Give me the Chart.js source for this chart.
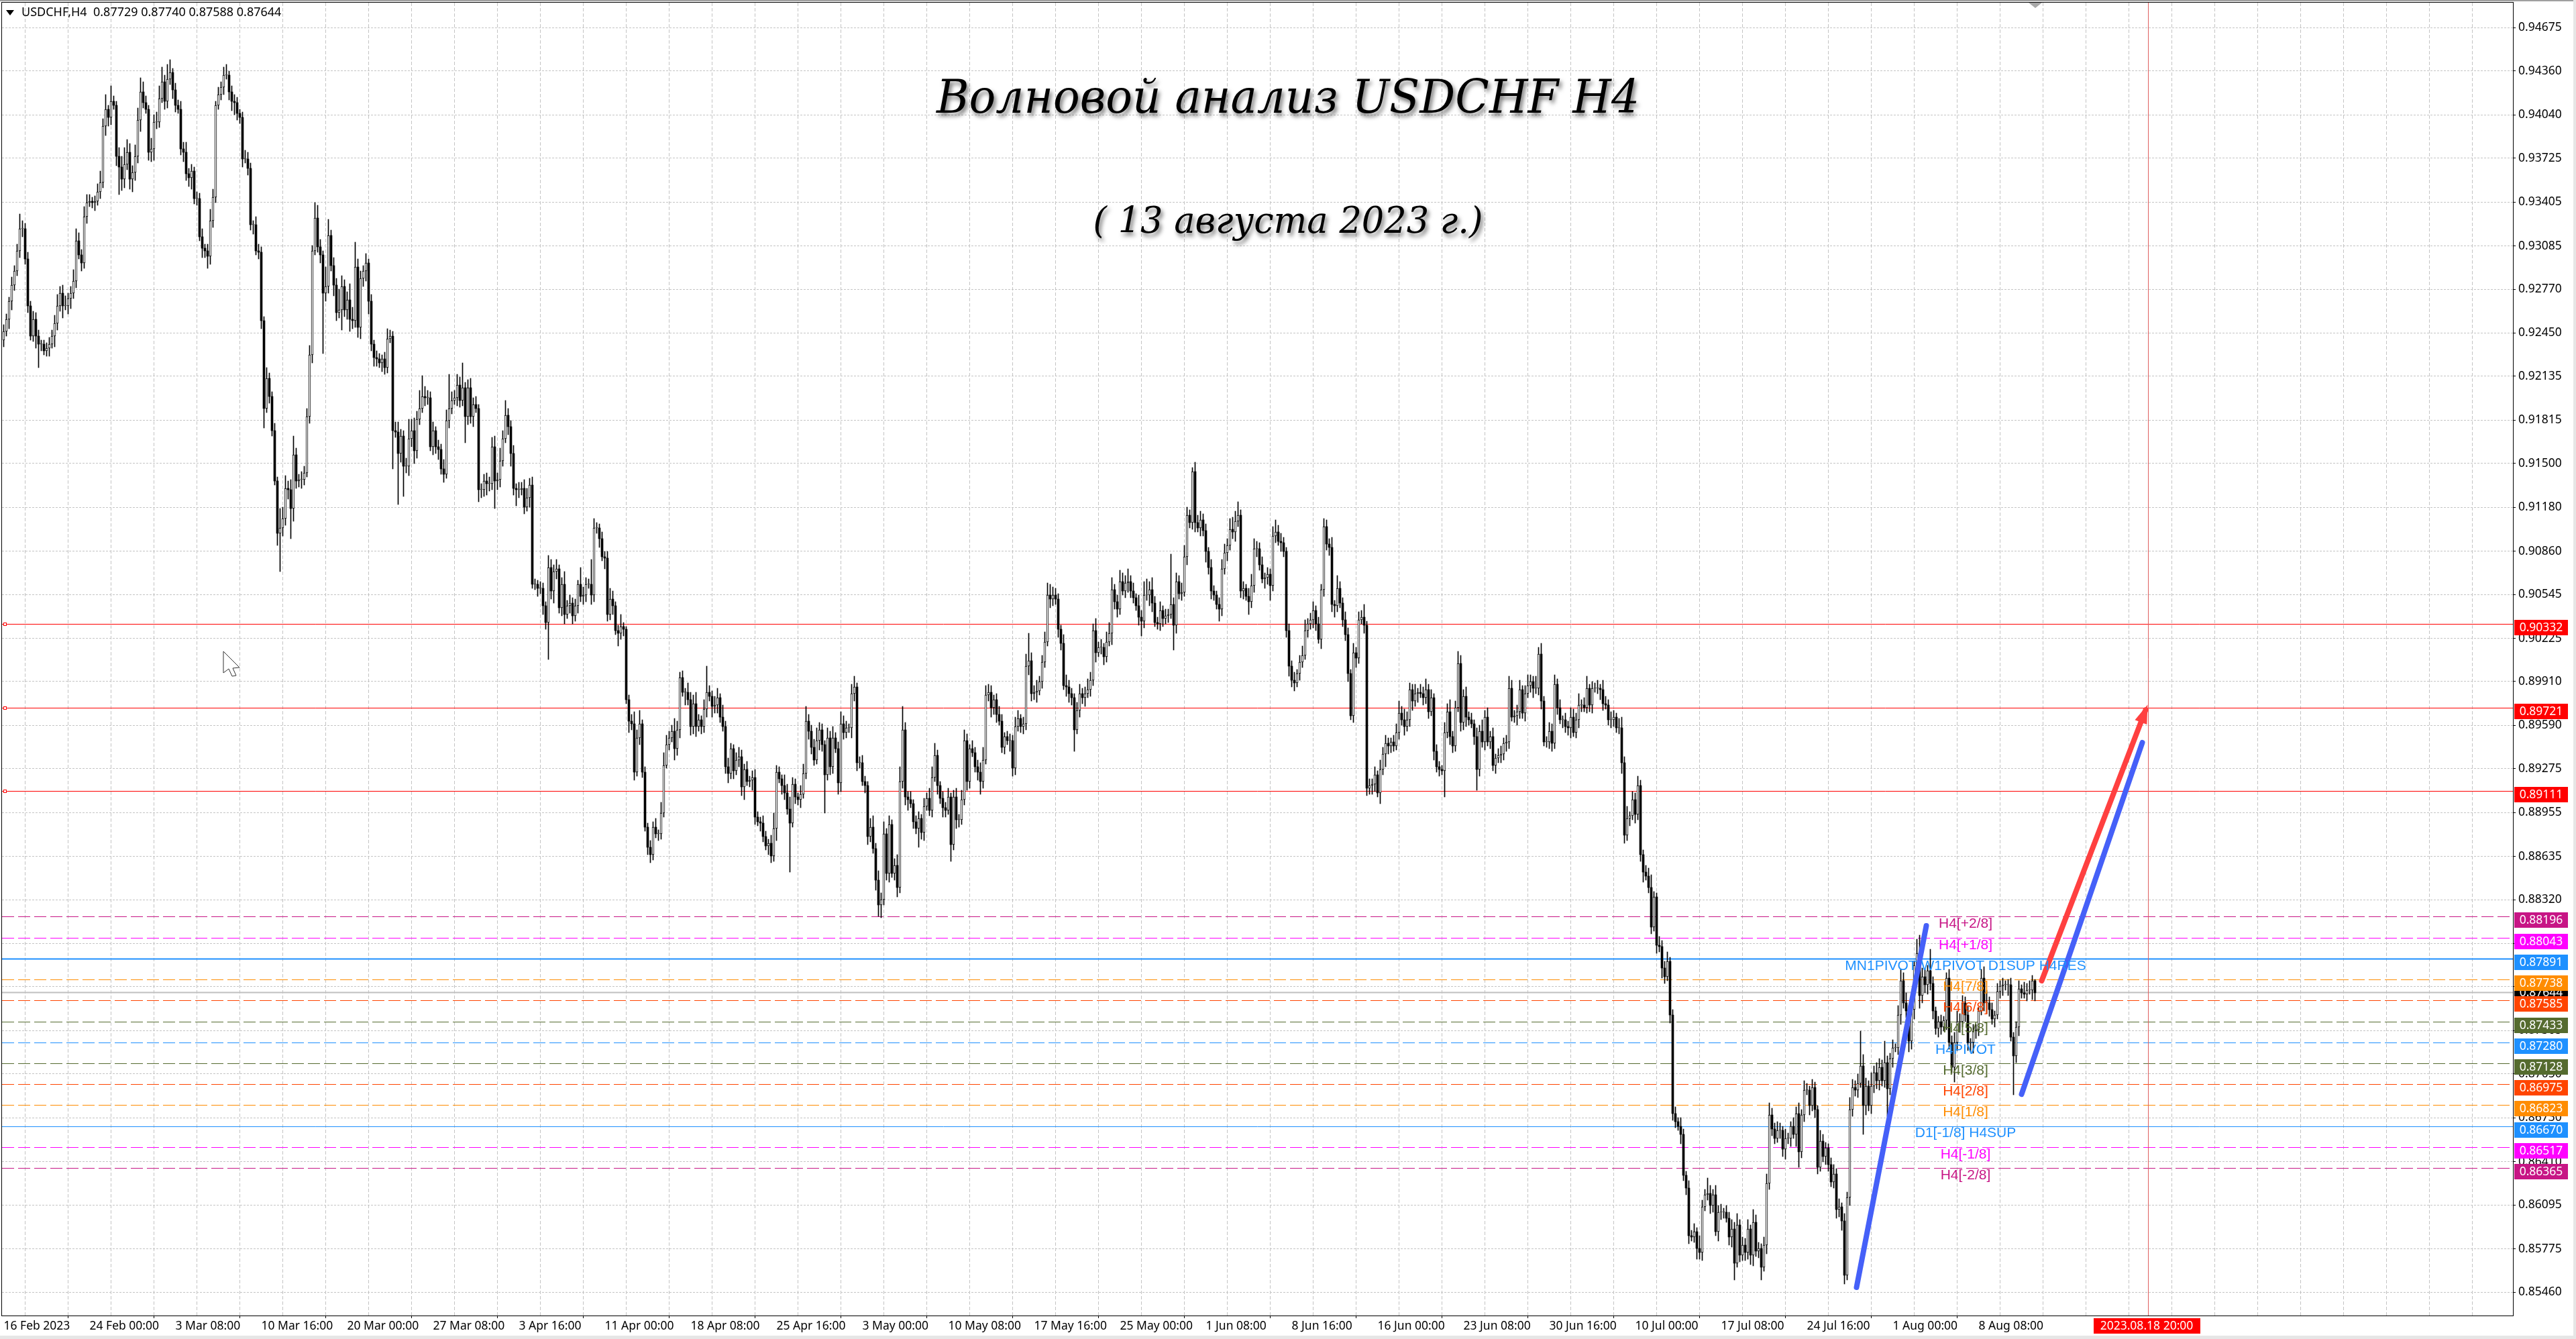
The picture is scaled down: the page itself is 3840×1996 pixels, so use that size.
<!DOCTYPE html>
<html>
<head>
<meta charset="utf-8">
<title>USDCHF H4</title>
<script src="https://cdn.jsdelivr.net/npm/chart.js@4"></script>
<style>
  html, body { margin: 0; padding: 0; background: #fff; }
  canvas { display: block; }
</style>
</head>
<body>
<canvas id="chartCanvas" width="3840" height="1996"></canvas>
<script>
// Candle closes (in 1/10000 of a price unit)
const closes = [
  9246,9255,9268,9280,9290,9305,9321,9321,9299,9265,9243,9255,9243,9237,9237,9232,9234,9237,9243,9252,
  9265,9274,9265,9265,9270,9274,9283,9312,9302,9296,9330,9340,9341,9340,9341,9348,9355,9396,9408,9402,
  9414,9411,9374,9366,9357,9368,9377,9357,9362,9374,9400,9421,9413,9408,9377,9379,9399,9399,9416,9428,
  9414,9430,9435,9422,9411,9408,9379,9377,9361,9358,9363,9343,9343,9315,9307,9305,9301,9327,9344,9411,
  9419,9424,9433,9433,9421,9414,9413,9405,9402,9372,9372,9365,9324,9324,9305,9304,9254,9190,9212,9199,
  9174,9137,9099,9103,9110,9132,9131,9117,9156,9137,9138,9138,9143,9184,9229,9305,9329,9308,9302,9274,
  9279,9316,9294,9280,9260,9262,9279,9262,9269,9255,9254,9293,9249,9285,9290,9296,9268,9237,9227,9226,
  9223,9226,9220,9241,9243,9174,9173,9157,9170,9148,9148,9168,9174,9159,9182,9190,9199,9198,9198,9162,
  9174,9162,9160,9146,9142,9181,9190,9196,9198,9207,9196,9205,9184,9205,9184,9193,9190,9131,9131,9137,
  9135,9135,9162,9137,9138,9152,9168,9185,9177,9157,9132,9131,9131,9132,9118,9125,9134,9062,9062,9059,
  9059,9046,9034,9074,9057,9071,9073,9045,9062,9040,9046,9048,9039,9046,9062,9053,9054,9062,9062,9054,
  9103,9103,9095,9082,9081,9040,9051,9046,9028,9026,9031,9029,8978,8962,8960,8925,8950,8960,8925,8885,
  8870,8865,8885,8880,8880,8895,8930,8945,8950,8955,8942,8956,8994,8983,8983,8978,8958,8975,8958,8963,
  8958,8971,8983,8980,8973,8974,8979,8965,8958,8929,8924,8942,8926,8934,8936,8914,8927,8918,8919,8921,
  8892,8889,8888,8878,8871,8873,8864,8884,8925,8920,8915,8910,8898,8888,8916,8907,8905,8909,8924,8962,
  8955,8943,8934,8948,8956,8945,8923,8950,8929,8950,8942,8917,8960,8954,8957,8957,8982,8987,8932,8932,
  8918,8915,8878,8885,8869,8846,8828,8832,8880,8851,8887,8851,8857,8841,8918,8956,8907,8905,8902,8889,
  8884,8891,8881,8900,8906,8897,8921,8937,8915,8906,8899,8897,8907,8872,8907,8890,8890,8905,8948,8918,
  8942,8939,8929,8925,8918,8934,8981,8983,8972,8978,8967,8962,8943,8951,8948,8948,8928,8958,8964,8958,
  8960,9002,9006,8982,8983,8984,8991,9005,9020,9054,9051,9054,9051,9029,9019,8988,8987,8982,8979,8956,
  8970,8982,8979,8982,8985,8992,9028,9012,9016,9016,9009,9020,9026,9058,9049,9044,9064,9057,9063,9064,
  9057,9052,9046,9038,9035,9054,9054,9058,9048,9034,9033,9043,9037,9039,9040,9047,9032,9064,9055,9056,
  9082,9112,9107,9144,9107,9103,9109,9101,9086,9074,9057,9054,9047,9044,9073,9085,9090,9102,9100,9108,
  9112,9057,9059,9053,9049,9061,9088,9088,9076,9066,9067,9069,9061,9097,9100,9093,9092,9086,9028,9002,
  8992,8990,8997,9005,9010,9028,9033,9036,9043,9033,9022,9058,9104,9091,9089,9047,9046,9059,9048,9036,
  9025,8997,8966,9012,9008,9036,9038,9032,8913,8915,8916,8923,8910,8927,8938,8946,8944,8947,8944,8954,
  8968,8963,8958,8963,8985,8977,8982,8983,8982,8979,8985,8969,8979,8940,8929,8927,8926,8954,8969,8951,
  8944,8972,9004,8961,8980,8965,8963,8960,8951,8927,8955,8947,8965,8947,8951,8930,8935,8937,8938,8946,
  8947,8986,8965,8966,8969,8985,8968,8982,8988,8991,8986,8986,9011,8977,8947,8947,8955,8946,8989,8972,
  8963,8963,8958,8957,8965,8954,8963,8974,8974,8972,8986,8974,8986,8986,8986,8985,8975,8974,8963,8963,
  8965,8957,8957,8932,8879,8891,8893,8905,8894,8915,8865,8852,8849,8841,8812,8834,8799,8798,8782,8776,
  8787,8748,8676,8670,8667,8661,8631,8622,8587,8586,8590,8578,8575,8608,8617,8618,8609,8617,8590,8604,
  8604,8604,8600,8586,8592,8567,8595,8573,8580,8575,8592,8573,8597,8576,8578,8564,8580,8625,8675,8665,
  8658,8664,8664,8650,8658,8658,8667,8661,8676,8648,8675,8693,8693,8682,8695,8679,8637,8656,8645,8651,
  8639,8626,8632,8606,8608,8598,8558,8615,8679,8695,8693,8698,8711,8682,8696,8682,8696,8706,8700,8710,
  8700,8713,8694,8716,8724,8724,8748,8773,8757,8751,8729,8752,8784,8793,8762,8776,8770,8780,8771,8751,
  8738,8743,8739,8744,8775,8728,8710,8728,8743,8743,8757,8748,8728,8728,8736,8737,8751,8775,8757,8757,
  8752,8745,8748,8765,8769,8770,8770,8770,8732,8718,8739,8767,8764,8763,8766,8766,8773,8764
];

// Length of the upper wick of each candle
const wickUp = [
  5,4,3,6,4,5,11,6,4,5,3,6,5,4,3,3,4,5,4,6,
  8,5,6,7,4,5,8,9,6,4,7,6,5,3,4,6,8,5,11,3,
  11,4,3,6,8,12,9,6,5,8,9,10,7,5,3,8,5,7,9,11,
  5,11,9,3,5,4,6,5,7,4,5,3,5,4,6,3,5,8,6,3,
  5,4,6,8,3,4,5,4,3,4,6,5,4,3,6,5,4,3,8,4,
  3,5,3,14,8,9,5,7,14,5,4,6,5,6,7,4,11,9,5,3,
  14,12,4,6,5,15,8,5,6,12,9,18,6,5,4,7,3,5,3,5,
  4,3,5,7,4,3,6,7,5,4,6,14,8,9,6,13,15,7,5,4,
  6,3,5,4,7,8,25,6,5,8,6,18,4,6,7,5,6,3,4,5,
  6,5,7,8,5,9,6,11,5,4,6,3,5,4,6,7,5,6,4,3,
  5,4,3,9,6,5,7,3,5,9,4,6,4,5,3,12,6,5,4,18,
  7,4,3,5,4,5,8,6,3,4,9,3,2,3,5,9,6,10,3,4,
  3,5,4,6,3,8,9,7,5,4,9,6,4,5,3,7,5,6,8,4,
  3,7,19,5,4,6,7,3,9,4,6,4,3,5,7,5,4,6,3,5,
  6,4,3,5,4,3,6,11,5,4,3,8,6,9,5,4,3,6,7,11,
  5,4,6,9,5,4,3,7,5,8,4,5,9,6,5,3,7,8,3,4,
  5,4,3,6,8,4,7,5,9,4,6,3,5,8,11,17,5,4,6,3,
  4,5,3,6,4,7,8,9,4,3,5,4,6,3,5,6,4,7,8,5,
  3,6,4,5,7,9,7,6,5,3,4,6,5,3,4,5,4,7,6,3,
  5,9,20,6,5,8,4,5,7,9,8,6,5,4,3,6,8,5,4,3,
  6,7,4,5,8,6,5,9,4,6,3,7,8,9,4,5,8,6,5,9,
  4,6,3,8,5,10,12,6,9,5,4,6,3,5,4,37,5,6,4,7,
  8,6,4,3,7,5,6,4,5,3,6,4,3,5,7,6,5,8,9,7,
  10,4,5,3,6,8,7,5,4,6,3,5,4,7,9,5,6,4,3,5,
  4,6,3,5,7,8,4,5,6,3,5,4,6,5,4,7,3,9,5,4,
  6,5,3,7,4,6,5,9,3,5,4,6,3,7,5,6,4,3,5,6,
  9,5,8,6,5,4,7,3,6,5,8,4,6,3,5,4,3,7,6,9,
  4,5,9,6,5,7,4,5,3,6,4,8,5,7,4,6,3,5,6,4,
  5,9,6,4,5,7,3,6,8,5,4,9,5,8,3,4,6,5,7,4,
  6,3,5,4,7,6,5,8,4,5,9,3,5,4,6,3,7,5,4,6,
  5,3,7,8,4,9,3,6,5,7,4,3,5,6,9,4,3,6,4,5,
  7,3,4,5,3,6,4,3,5,4,6,3,9,5,4,11,6,4,7,5,
  6,3,5,4,7,5,8,4,6,5,7,3,9,5,4,3,6,7,9,5,
  4,6,5,3,7,4,3,6,5,8,4,7,5,3,6,4,3,8,5,4,
  3,5,7,4,6,3,5,4,9,6,5,7,25,8,6,4,10,5,7,6,
  5,16,5,4,6,3,7,8,6,7,4,5,3,10,13,6,5,4,16,5,
  3,4,5,3,4,6,5,7,8,6,5,4,7,3,5,4,3,6,8,9,
  4,5,3,6,4,5,3,4,5,3,4,6,3,8,5,7,4,1
];

// Length of the lower wick of each candle
const wickDn = [
  5,3,7,6,4,3,5,6,4,5,3,4,9,17,5,3,4,6,3,8,
  5,4,9,3,6,7,4,5,3,6,4,5,3,4,6,3,5,4,7,6,
  5,3,7,20,8,6,4,7,9,6,5,8,4,3,6,7,8,5,4,3,
  6,5,4,6,5,3,4,7,5,6,8,4,5,3,7,5,9,6,5,4,
  3,4,5,3,6,7,9,5,4,6,3,5,4,7,3,5,6,14,3,5,
  4,3,9,28,6,5,7,22,9,5,4,6,4,3,5,6,3,4,6,44,
  6,5,4,8,6,4,15,5,7,9,6,5,7,8,6,7,9,5,6,5,
  3,6,5,4,3,28,4,37,6,22,5,7,6,9,5,4,3,6,5,3,
  6,5,7,4,6,3,5,4,3,6,5,4,19,6,5,7,3,9,6,5,
  8,5,4,20,6,5,4,3,6,9,5,12,6,4,5,3,7,3,4,6,
  4,6,5,27,6,9,5,4,6,7,3,5,6,4,5,4,6,5,3,7,
  5,4,6,3,8,5,4,6,3,9,4,5,3,8,4,6,3,5,4,3,
  5,6,4,3,5,4,3,2,4,3,8,5,6,3,9,4,6,5,7,3,
  5,4,6,3,8,5,6,4,3,5,7,4,6,3,5,6,9,3,4,7,
  5,3,6,4,3,6,5,4,9,3,6,5,4,36,3,5,4,6,3,4,
  6,5,4,3,7,5,28,4,6,5,3,8,6,5,4,3,7,5,6,4,
  3,5,6,4,3,7,8,9,4,5,6,3,5,7,4,5,6,8,3,5,
  4,14,5,6,3,4,5,3,6,4,7,5,3,12,4,6,5,3,4,6,
  5,3,4,6,9,5,3,4,7,5,6,3,4,5,3,8,6,5,3,4,
  5,4,6,5,4,7,3,5,4,3,6,5,4,6,5,3,7,6,5,16,
  3,5,4,6,3,5,4,7,3,5,6,4,3,8,5,6,4,3,5,7,
  5,4,3,6,11,5,4,8,6,3,4,5,6,4,5,3,18,6,4,5,
  3,6,4,5,7,3,6,4,8,5,6,4,3,9,5,4,6,3,5,7,
  4,5,6,3,9,4,5,6,4,3,7,5,11,4,5,3,6,4,5,7,
  5,6,3,5,4,3,5,4,6,5,3,7,5,4,6,5,8,4,3,5,
  4,6,3,5,7,4,3,6,5,4,6,5,3,8,4,9,6,5,4,3,
  5,4,6,3,5,7,4,6,3,5,4,5,3,6,4,5,3,19,4,6,
  5,4,3,6,5,7,4,3,6,15,5,4,6,3,5,4,6,3,5,4,
  6,5,3,4,7,5,4,6,3,5,7,4,5,6,3,4,5,6,4,5,
  3,6,4,5,7,3,4,6,5,3,4,5,6,3,4,7,5,3,4,6,
  5,3,4,8,6,4,5,3,6,4,5,7,3,4,5,3,6,4,7,5,
  3,6,5,4,3,7,4,5,6,3,4,8,5,6,3,4,6,5,3,7,
  5,4,3,6,7,12,3,5,4,6,5,7,8,4,5,9,3,6,4,5,
  4,3,6,5,7,4,6,3,9,11,4,5,3,7,4,6,5,3,4,6,
  5,3,4,6,5,7,6,3,6,5,4,5,3,21,7,4,6,5,6,7,
  4,5,20,4,6,3,5,7,4,5,8,6,7,4,9,5,6,7,5,6,
  4,6,5,3,7,5,4,11,6,8,4,5,6,7,8,5,4,3,6,8,
  5,4,6,3,5,7,4,8,3,28,5,6,4,3,5,3,7,6
];

const yTicks = [
  0.94675,0.94360,0.94040,0.93725,0.93405,0.93085,0.92770,0.92450,0.92135,0.91815,
  0.91500,0.91180,0.90860,0.90545,0.90225,0.89910,0.89590,0.89275,0.88955,0.88635,
  0.88320,0.88000,0.87685,0.87365,0.87050,0.86730,0.86410,0.86095,0.85775,0.85460
];

const xTickLabels = [
  "16 Feb 2023","24 Feb 00:00","3 Mar 08:00","10 Mar 16:00","20 Mar 00:00","27 Mar 08:00",
  "3 Apr 16:00","11 Apr 00:00","18 Apr 08:00","25 Apr 16:00","3 May 00:00","10 May 08:00",
  "17 May 16:00","25 May 00:00","1 Jun 08:00","8 Jun 16:00","16 Jun 00:00","23 Jun 08:00",
  "30 Jun 16:00","10 Jul 00:00","17 Jul 08:00","24 Jul 16:00","1 Aug 00:00","8 Aug 08:00"
];

// Murrey style levels on the right hand side
const levelValues = [0.88196,0.88043,0.87891,0.87738,0.87585,0.87433,0.87280,0.87128,0.86975,0.86823,0.86670,0.86517,0.86365];
const levelNames = ["H4[+2/8]","H4[+1/8]","MN1PIVOT W1PIVOT D1SUP H4RES","H4[7/8]","H4[6/8]","H4[5/8]","H4PIVOT","H4[3/8]","H4[2/8]","H4[1/8]","D1[-1/8] H4SUP","H4[-1/8]","H4[-2/8]"];
const levelColors = ["#C71585","#FF00FF","#1E90FF","#FF8C00","#FF4500","#556B2F","#1E90FF","#556B2F","#FF4500","#FF8C00","#1E90FF","#FF00FF","#C71585"];

const redLevels = [0.90332,0.89721,0.89111];
const lastPrice = 0.87644;
const lastBarTime = 799;   // position of the 2023.08.18 20:00 marker

const waveOneX = [690.5,716.5];
const waveOneY = [0.85494,0.88130];
const waveTwoX = [752,797];
const waveTwoY = [0.86902,0.89465];
const targetX = [759.5,798.25];
const targetY = [0.87729,0.89704];

const FONT = '"Noto Sans", sans-serif';
const LABEL_SIZE = 17.5;

// Build candle series
const opens = [9240].concat(closes.slice(0, closes.length - 1));
const wickData = [], bullData = [], bearData = [];
closes.forEach((c, i) => {
  const o = opens[i];
  const top = Math.max(o, c) + (wickUp[i] === undefined ? 3 : wickUp[i]);
  const bot = Math.min(o, c) - (wickDn[i] === undefined ? 3 : wickDn[i]);
  wickData.push({ x: i, y: [bot / 10000, top / 10000] });
  if (c >= o) bullData.push({ x: i, y: [o / 10000, c / 10000] });
  else bearData.push({ x: i, y: [c / 10000, o / 10000] });
});

const xMin = -0.625, xMax = 935.125;
const levelLine = (v, color, width, dash, order) => ({
  type: 'line',
  data: [{ x: xMin, y: v }, { x: xMax, y: v }],
  borderColor: color,
  borderWidth: width,
  borderDash: dash,
  pointRadius: 0,
  order: order
});
const waveLine = (xs, ys, color) => ({
  type: 'line',
  data: xs.map((x, i) => ({ x: x, y: ys[i] })),
  borderColor: color,
  borderWidth: 8,
  borderCapStyle: 'round',
  pointRadius: 0,
  order: 1
});

const datasets = [];
redLevels.forEach(v => datasets.push(levelLine(v, '#FF0000', 1, [], 10)));
datasets.push(levelLine(lastPrice, '#C0C0C0', 2, [], 10));
levelValues.forEach((v, i) => {
  const solid = i === 2 || i === 10;
  datasets.push(levelLine(v, levelColors[i], i === 2 ? 2 : 1, solid ? [] : [18, 6], 10));
});
datasets.push({ type: 'line', data: [{ x: lastBarTime, y: 0.84 }, { x: lastBarTime, y: 0.96 }], borderColor: '#E06060', borderWidth: 1, pointRadius: 0, order: 9 });
datasets.push({ type: 'bar', data: wickData, backgroundColor: '#000', barThickness: 1, grouped: false, order: 5 });
datasets.push({ type: 'bar', data: bullData, backgroundColor: '#fff', borderColor: '#000', borderWidth: 1, borderSkipped: false, barThickness: 3, minBarLength: 1, grouped: false, order: 4 });
datasets.push({ type: 'bar', data: bearData, backgroundColor: '#000', barThickness: 3, minBarLength: 1, grouped: false, order: 4 });
datasets.push(waveLine(waveOneX, waveOneY, '#4560F8'));
datasets.push(waveLine(waveTwoX, waveTwoY, '#4560F8'));
datasets.push(waveLine(targetX, targetY, '#FF4040'));

// Everything that MT4 paints on top of the chart
const overlay = {
  id: 'overlay',
  afterDatasetsUpdate(chart) {
    // snap candles and level lines to whole pixels, the reference has no antialiasing there
    chart.getSortedVisibleDatasetMetas().forEach(meta => {
      if (meta.type === 'bar') {
        meta.data.forEach(el => { el.y = Math.round(el.y); el.base = Math.round(el.base); });
      } else if (meta.order === 10) {
        meta.data.forEach(el => { el.y = Math.round(el.y) + 0.5; });
      } else if (meta.order === 9) {
        meta.data.forEach(el => { el.x = Math.round(el.x) + 0.5; });
      }
    });
  },
  beforeDraw(chart) {
    const ctx = chart.ctx;
    ctx.save();
    ctx.fillStyle = '#fff';
    ctx.fillRect(0, 0, 3840, 1996);
    ctx.fillStyle = '#A0A0A0';
    ctx.fillRect(0, 0, 3840, 2);
    ctx.fillStyle = '#E6E6E6';
    ctx.fillRect(0, 1991, 3840, 5);
    ctx.fillRect(3836, 0, 4, 1996);
    ctx.restore();
  },
  afterDraw(chart) {
    const ctx = chart.ctx, a = chart.chartArea, y = chart.scales.y, x = chart.scales.x;
    ctx.save();

    // frame
    ctx.strokeStyle = '#000';
    ctx.lineWidth = 1;
    ctx.strokeRect(a.left - 0.5, a.top - 0.5, a.right - a.left + 1, a.bottom - a.top + 1);

    // red arrow head
    const tipX = x.getPixelForValue(targetX[1]), tipY = y.getPixelForValue(targetY[1]);
    const ang = Math.atan2(y.getPixelForValue(targetY[0]) - tipY, x.getPixelForValue(targetX[0]) - tipX);
    ctx.fillStyle = '#FF4040';
    ctx.beginPath();
    ctx.moveTo(tipX - 8 * Math.cos(ang), tipY - 8 * Math.sin(ang));
    ctx.lineTo(tipX + 22 * Math.cos(ang + 0.45), tipY + 22 * Math.sin(ang + 0.45));
    ctx.lineTo(tipX + 22 * Math.cos(ang - 0.45), tipY + 22 * Math.sin(ang - 0.45));
    ctx.closePath();
    ctx.fill();

    // level names
    ctx.font = '21px "Liberation Sans", Arial, sans-serif';
    ctx.textAlign = 'center';
    ctx.textBaseline = 'middle';
    levelValues.forEach((v, i) => {
      ctx.fillStyle = levelColors[i];
      ctx.fillText(levelNames[i], 2930, y.getPixelForValue(v) + 11);
    });

    // small squares on the red lines
    ctx.strokeStyle = '#FF0000';
    redLevels.forEach(v => {
      const py = Math.round(y.getPixelForValue(v));
      ctx.fillStyle = '#fff';
      ctx.fillRect(5, py - 2, 5, 5);
      ctx.strokeRect(5.5, py - 1.5, 4, 4);
    });

    // price boxes
    ctx.font = LABEL_SIZE + 'px ' + FONT;
    const box = (v, bg, dy) => {
      const py = Math.round(y.getPixelForValue(v));
      ctx.fillStyle = bg;
      ctx.fillRect(3748, py + dy, 80, 23);
      ctx.fillStyle = '#fff';
      ctx.fillText(v.toFixed(5), 3788, py + dy + 12);
    };
    box(lastPrice, '#000', -11);
    redLevels.forEach(v => box(v, '#FF0000', -6));
    levelValues.forEach((v, i) => box(v, levelColors[i], -6));

    // time marker box
    ctx.fillStyle = '#FF0000';
    ctx.fillRect(3121, 1965, 159, 23);
    ctx.fillStyle = '#fff';
    ctx.fillText('2023.08.18 20:00', 3200, 1977);

    // header
    ctx.fillStyle = '#000';
    ctx.beginPath();
    ctx.moveTo(9, 15); ctx.lineTo(21, 15); ctx.lineTo(15, 23);
    ctx.closePath();
    ctx.fill();
    ctx.textAlign = 'left';
    ctx.font = '18px ' + FONT;
    ctx.fillText('USDCHF,H4  0.87729 0.87740 0.87588 0.87644', 32, 19);

    // grey wedge at the top of the chart
    ctx.fillStyle = '#A8A8A8';
    ctx.beginPath();
    ctx.moveTo(3024, 4); ctx.lineTo(3044, 4); ctx.lineTo(3034, 12);
    ctx.closePath();
    ctx.fill();

    // mouse pointer left in the screenshot
    ctx.fillStyle = '#fff';
    ctx.strokeStyle = '#333';
    ctx.beginPath();
    ctx.moveTo(333, 971); ctx.lineTo(357, 995); ctx.lineTo(347, 996); ctx.lineTo(352, 1007);
    ctx.lineTo(346, 1008); ctx.lineTo(341, 997); ctx.lineTo(333, 1003);
    ctx.closePath();
    ctx.fill();
    ctx.stroke();

    // titles
    ctx.textAlign = 'center';
    ctx.fillStyle = '#000';
    ctx.shadowColor = 'rgba(0,0,0,0.55)';
    ctx.shadowBlur = 6;
    ctx.shadowOffsetX = 3;
    ctx.shadowOffsetY = 5;
    ctx.font = 'italic 70px "DejaVu Serif", serif';
    ctx.fillText('Волновой анализ USDCHF H4', 1920, 150, 1048);
    ctx.font = 'italic 54px "DejaVu Serif", serif';
    ctx.fillText('( 13 августа 2023 г.)', 1920, 333, 581);
    ctx.restore();
  }
};

new Chart(document.getElementById('chartCanvas').getContext('2d'), {
  type: 'bar',
  data: { datasets: datasets },
  plugins: [overlay],
  options: {
    responsive: false,
    devicePixelRatio: 1,
    animation: false,
    events: [],
    layout: { autoPadding: false, padding: { left: 3, top: 4, right: 0, bottom: 0 } },
    plugins: { legend: { display: false }, tooltip: { enabled: false }, title: { display: false } },
    scales: {
      x: {
        type: 'linear',
        offset: false,
        min: xMin,
        max: xMax,
        afterFit(s) { s.height = 35; s.paddingLeft = 0; s.paddingRight = 0; },
        afterBuildTicks(s) {
          const t = [];
          for (let i = 0; i <= 928; i += 16) t.push({ value: i });
          s.ticks = t;
        },
        border: { display: false, dash: [5, 3] },
        grid: {
          color: '#C4C4C4',
          lineWidth: 1,
          tickLength: 4,
          tickColor: ctx => (ctx.tick && ctx.tick.value % 32 === 0 && ctx.tick.value / 32 < xTickLabels.length) ? '#000' : 'rgba(0,0,0,0)'
        },
        ticks: {
          autoSkip: false,
          maxRotation: 0,
          minRotation: 0,
          align: 'start',
          padding: 2,
          color: '#000',
          font: { family: FONT, size: LABEL_SIZE },
          callback: v => (v % 32 === 0 ? (xTickLabels[v / 32] || '') : '')
        }
      },
      y: {
        type: 'linear',
        position: 'right',
        min: 0.85289,
        max: 0.94858,
        afterFit(s) { s.width = 94; s.paddingTop = 0; s.paddingBottom = 0; },
        afterBuildTicks(s) { s.ticks = yTicks.map(v => ({ value: v })); },
        border: { display: false, dash: [3, 2] },
        grid: { color: '#C4C4C4', lineWidth: 1, tickLength: 4, tickColor: '#000' },
        ticks: {
          autoSkip: false,
          padding: 4,
          color: '#000',
          font: { family: FONT, size: LABEL_SIZE },
          callback: v => v.toFixed(5)
        }
      }
    }
  }
});
</script>
</body>
</html>
